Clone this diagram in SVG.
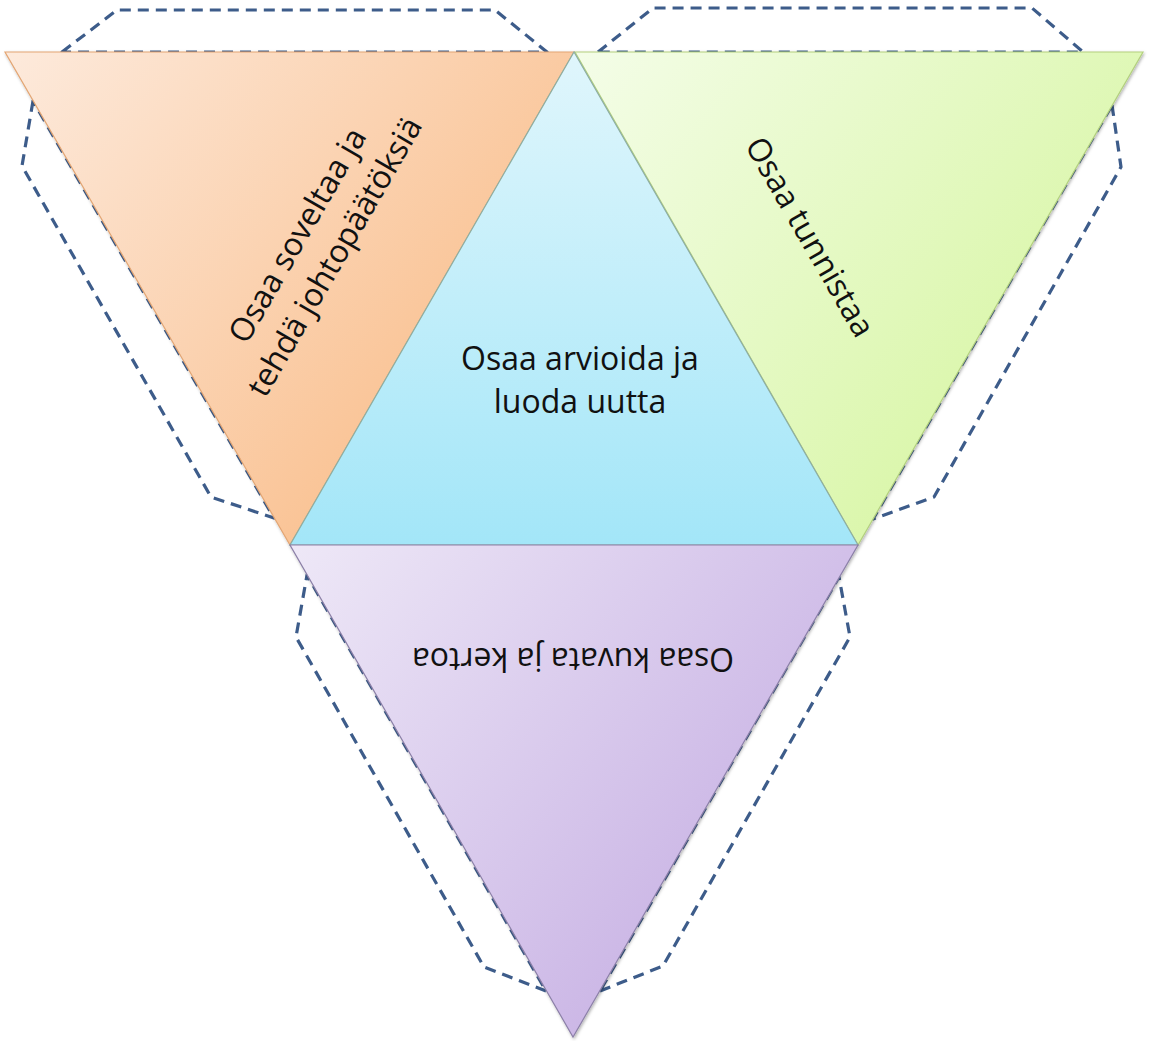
<svg xmlns="http://www.w3.org/2000/svg" width="1150" height="1041" viewBox="0 0 1150 1041">
  <defs>
    <linearGradient id="gOrange" x1="0" y1="0" x2="1" y2="0.7">
      <stop offset="0" stop-color="#fdeadc"/>
      <stop offset="1" stop-color="#f9bb86"/>
    </linearGradient>
    <linearGradient id="gBlue" x1="0" y1="0" x2="0" y2="1">
      <stop offset="0" stop-color="#e0f6fc"/>
      <stop offset="1" stop-color="#a3e6f8"/>
    </linearGradient>
    <linearGradient id="gGreen" x1="0" y1="0" x2="1" y2="0.7">
      <stop offset="0" stop-color="#f4fde8"/>
      <stop offset="1" stop-color="#d5f59e"/>
    </linearGradient>
    <linearGradient id="gPurple" x1="0" y1="0" x2="1" y2="0.7">
      <stop offset="0" stop-color="#eee8f7"/>
      <stop offset="1" stop-color="#c4ace2"/>
    </linearGradient>
    <filter id="soft" x="-5%" y="-5%" width="110%" height="110%">
      <feDropShadow dx="1" dy="1.5" stdDeviation="1.5" flood-color="#000" flood-opacity="0.3"/>
    </filter>
  </defs>
  <style>
    .face { stroke-width: 1.2; stroke-linejoin: miter; }
    .label { font-family: "Open Sans", "Liberation Sans", sans-serif; font-size: 32px; fill: #111; text-anchor: middle; }
    .flap { fill: none; stroke: #3d5c8a; stroke-width: 3.2; stroke-dasharray: 11 7; stroke-linejoin: round; stroke-linecap: butt; }
  </style>

  <rect width="1150" height="1041" fill="#ffffff"/>

  <!-- glue tabs along the outer edges, tucked under the faces -->
  <g id="connectors">
    <path class="flap" d="M62,52 L117,10 L495,10 L547,52 Z"/>
    <path class="flap" d="M598,52 L653,8 L1032,8 L1083,52 Z"/>
    <path class="flap" d="M33,101 L22,166 L211,497 L274,518 Z"/>
    <path class="flap" d="M1112,105 L1121,167 L934,497 L873,519 Z"/>
    <path class="flap" d="M546,991 L484,967 L296,637 L307,575 Z"/>
    <path class="flap" d="M600,991 L663,966 L850,637 L839,577 Z"/>
  </g>

  <!-- the four faces of the net -->
  <g filter="url(#soft)">
    <g id="face-left">
      <polygon class="face" points="5,52 574,52 290,545" fill="url(#gOrange)" stroke="#e3a674"/>
    </g>
    <g id="face-right">
      <polygon class="face" points="575,52 1143,52 858,545" fill="url(#gGreen)" stroke="#b3d07e"/>
    </g>
    <g id="face-center">
      <polygon class="face" points="574,52 858,545 290,545" fill="url(#gBlue)" stroke="#8eaea2"/>
    </g>
    <g id="face-bottom">
      <polygon class="face" points="290,545 858,545 573,1037" fill="url(#gPurple)" stroke="#8c80a8"/>
    </g>
  </g>

  <!-- face labels -->
  <g id="label-left" transform="translate(316,246) rotate(-60)">
    <text class="label" x="0" y="-10.5">Osaa soveltaa ja</text>
    <text class="label" x="0" y="32.5">tehdä johtopäätöksiä</text>
  </g>
  <g id="label-right" transform="translate(810,237) rotate(60)">
    <text class="label" x="0" y="11">Osaa tunnistaa</text>
  </g>
  <g id="label-center">
    <text class="label" x="580" y="370">Osaa arvioida ja</text>
    <text class="label" x="580" y="413">luoda uutta</text>
  </g>
  <g id="label-bottom" transform="translate(573,659) rotate(180)">
    <text class="label" x="0" y="11">Osaa kuvata ja kertoa</text>
  </g>
</svg>
